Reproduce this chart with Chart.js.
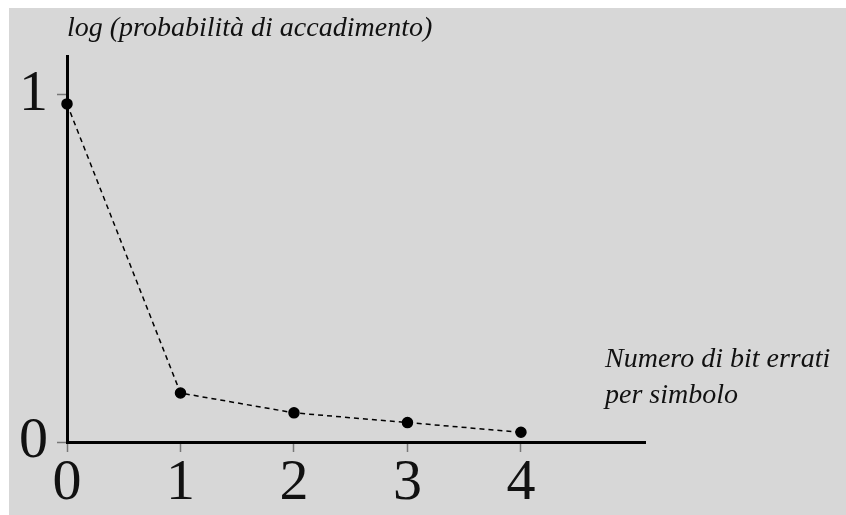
<!DOCTYPE html>
<html>
<head>
<meta charset="utf-8">
<script src="https://cdn.jsdelivr.net/npm/chart.js@4/dist/chart.umd.min.js"></script>
<style>
  html, body { margin: 0; padding: 0; background: #ffffff; }
  #box { position: absolute; left: 9px; top: 8px; width: 837px; height: 507px; background: #d7d7d7; }
</style>
</head>
<body>
<div id="box"><canvas id="grafico" width="837" height="507"></canvas></div>
<script>
// dati
const bitErrati = [0, 1, 2, 3, 4];
const logProb = [0.974, 0.141, 0.084, 0.056, 0.028];
const ticksX = [0, 1, 2, 3, 4];
const ticksY = [0, 1];
const titolo = 'log (probabilità di accadimento)';
const etichettaX = ['Numero di bit errati', 'per simbolo'];

const serif = '"Liberation Serif", "DejaVu Serif", serif';

// etichetta dell'asse x, a destra sopra la fine dell'asse
const etichettaAsse = {
  id: 'etichettaAsse',
  afterDraw(chart) {
    const ctx = chart.ctx;
    const a = chart.chartArea;
    ctx.save();
    ctx.font = 'italic 28px ' + serif;
    ctx.fillStyle = '#111';
    ctx.textBaseline = 'alphabetic';
    ctx.textAlign = 'left';
    ctx.fillText(etichettaX[0], a.right - 40, a.bottom - 75);
    ctx.fillText(etichettaX[1], a.right - 40, a.bottom - 39);
    ctx.restore();
  }
};

const ctx = document.getElementById('grafico').getContext('2d');
new Chart(ctx, {
  type: 'line',
  data: {
    datasets: [{
      data: bitErrati.map((x, i) => ({ x: x, y: logProb[i] })),
      borderColor: '#000',
      borderWidth: 1.5,
      borderDash: [5, 4],
      pointRadius: 5,
      pointBackgroundColor: '#000',
      pointBorderColor: '#000',
      tension: 0,
      fill: false,
      clip: false
    }]
  },
  options: {
    responsive: false,
    animation: false,
    layout: { padding: { left: 0, right: 201, top: 0, bottom: 0 } },
    plugins: {
      legend: { display: false },
      tooltip: { enabled: false },
      title: {
        display: true,
        text: titolo,
        align: 'start',
        fullSize: false,
        color: '#111',
        font: { family: serif, size: 28, style: 'italic', weight: 'normal', lineHeight: 1.2 },
        padding: { top: 4, bottom: 10.4 }
      }
    },
    scales: {
      x: {
        type: 'linear',
        min: 0,
        max: 5.093,
        afterBuildTicks: s => { s.ticks = ticksX.map(v => ({ value: v })); },
        afterFit: s => { s.height = 73; },
        border: { display: true, color: '#000', width: 3 },
        grid: { drawOnChartArea: false, drawTicks: true, tickLength: 10, color: '#777', tickWidth: 1.5 },
        ticks: {
          color: '#111',
          padding: 3,
          maxRotation: 0,
          autoSkip: false,
          font: { family: serif, size: 58, lineHeight: 1 }
        }
      },
      y: {
        type: 'linear',
        min: 0,
        max: 1.112,
        afterBuildTicks: s => { s.ticks = ticksY.map(v => ({ value: v })); },
        afterFit: s => { s.width = 58; },
        border: { display: true, color: '#000', width: 3 },
        grid: { drawOnChartArea: false, drawTicks: true, tickLength: 10, color: '#777', tickWidth: 1.5 },
        ticks: {
          color: '#111',
          padding: 9,
          autoSkip: false,
          font: { family: serif, size: 58, lineHeight: 1 }
        }
      }
    }
  },
  plugins: [etichettaAsse]
});
</script>
</body>
</html>
